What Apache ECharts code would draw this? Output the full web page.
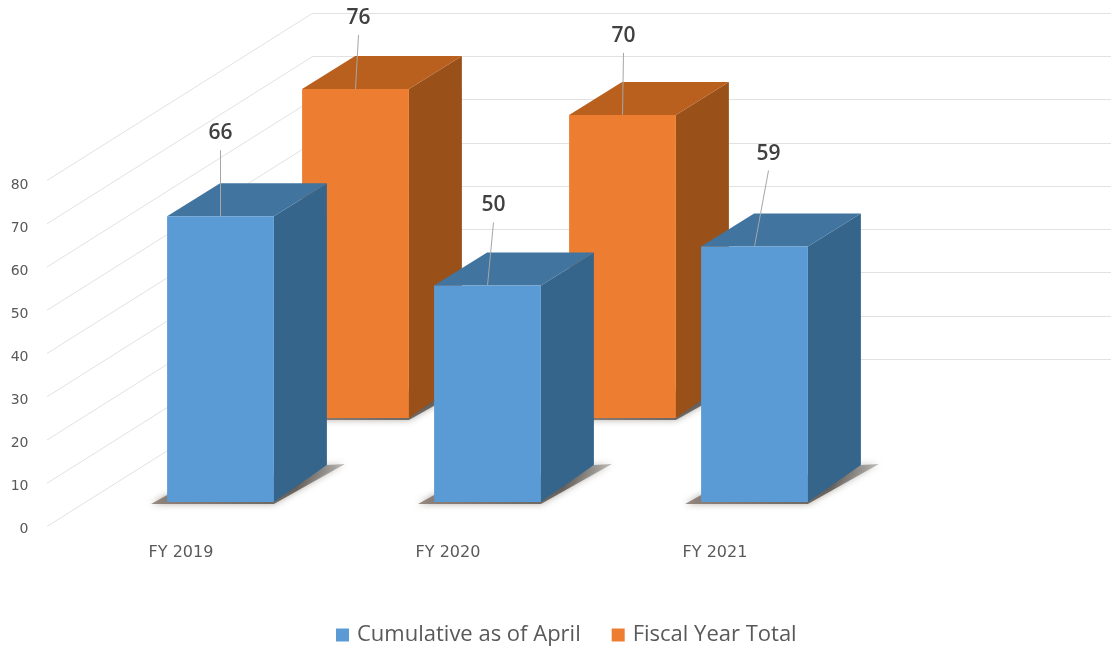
<!DOCTYPE html>
<html>
<head>
<meta charset="utf-8">
<style>html,body{margin:0;padding:0;background:#fff}#chart{width:1111px;height:652px}</style>
<script src="https://cdn.jsdelivr.net/npm/echarts@6/dist/echarts.min.js"></script>
</head>
<body>
<div id="chart"></div>
<script>
const categories = ['FY 2019', 'FY 2020', 'FY 2021'];
const cumulativeValues = [66, 50, 59];
const fiscalTotalValues = [76, 70, null];
const axisTicks = [0, 10, 20, 30, 40, 50, 60, 70, 80];

// label anchor offsets from the middle of each bar's top edge (style only)
const cumulativeLabelOffsets = [[0, -83], [6, -80], [14, -93]];
const fiscalLabelOffsets = [[3, -71], [1, -79], null];

const FONT = '"Open Sans", sans-serif';
const AXIS_FONT = '"DejaVu Sans", sans-serif';
const BAR_RATIO = 0.4;
const DEPTH = { dx: 53, topDy: 33, bottomDy: 37 };
const ROW_SHIFT = { back: [135, -84], front: [0, 0] };
const WALL_SHIFT = [266, -167.5];

const palette = {
  blue: { front: '#5b9bd5', top: '#41749f', side: '#36658c' },
  orange: { front: '#ed7d31', top: '#b9601f', side: '#9a5119' }
};

function barRender(colors, shift, offsets) {
  return function (params, api) {
    const cat = api.value(0), val = api.value(1);
    const w = api.size([1, 0])[0] * BAR_RATIO;
    const topC = api.coord([cat, val]);
    const botC = api.coord([cat, 0]);
    const xl = topC[0] - w / 2 + shift[0], xr = xl + w;
    const yt = topC[1] + shift[1], yb = botC[1] + shift[1];
    const d = DEPTH;
    const poly = (points, fill, extra) => ({
      type: 'polygon', shape: { points }, style: Object.assign({ fill }, extra || {}), silent: true
    });
    const shadowFill = new echarts.graphic.LinearGradient(0, 0, 1, 0, [
      { offset: 0, color: 'rgba(120,105,95,0.75)' },
      { offset: 0.75, color: 'rgba(70,65,60,0.75)' },
      { offset: 1, color: 'rgba(120,115,110,0.45)' }
    ]);
    const children = [
      poly([[xl - 16, yb + 2], [xl, yb - 7], [xr + d.dx, yb - d.bottomDy], [xr + d.dx + 18, yb - d.bottomDy - 1], [xr, yb + 2]],
        shadowFill, { shadowBlur: 7, shadowColor: 'rgba(110,100,90,0.7)' }),
      poly([[xr, yt], [xr + d.dx, yt - d.topDy], [xr + d.dx, yb - d.bottomDy], [xr, yb]], colors.side),
      poly([[xl, yt], [xl + d.dx, yt - d.topDy], [xr + d.dx, yt - d.topDy], [xr, yt]], colors.top),
      { type: 'rect', shape: { x: xl, y: yt, width: w, height: yb - yt }, style: { fill: colors.front }, silent: true }
    ];
    const off = offsets[params.dataIndex];
    const mx = (xl + xr) / 2;
    children.push({
      type: 'line',
      shape: { x1: mx, y1: yt, x2: mx + off[0], y2: yt + off[1] + 17 },
      style: { stroke: '#a6a6a6', lineWidth: 1 }, silent: true
    });
    children.push({
      type: 'text',
      style: {
        x: mx + off[0], y: yt + off[1], text: String(val),
        font: '600 21px ' + FONT, fill: '#404040', align: 'center', verticalAlign: 'middle'
      }, silent: true
    });
    return { type: 'group', children };
  };
}

function rows(values) {
  const out = [];
  values.forEach((v, i) => { if (v !== null) out.push([i, v]); });
  return out;
}

const option = {
  animation: false,
  backgroundColor: '#ffffff',
  legend: {
    data: ['Cumulative as of April', 'Fiscal Year Total'],
    left: 331, top: 619, icon: 'rect',
    itemWidth: 13, itemHeight: 13, itemGap: 31,
    selectedMode: false,
    textStyle: { fontFamily: FONT, fontSize: 22, color: '#595959', padding: [0, 0, 0, 3] }
  },
  grid: [
    { left: 87, width: 801, top: 155.6, height: 346.4 },
    { left: 47.5, width: 801, top: 185, height: 344 },
    { left: 313, right: 0, top: 13, height: 346 }
  ],
  xAxis: [
    { gridIndex: 0, type: 'category', data: categories, show: false },
    {
      gridIndex: 1, type: 'category', data: categories,
      axisLine: { show: false }, axisTick: { show: false },
      axisLabel: { margin: 16, fontFamily: AXIS_FONT, fontSize: 16, color: '#595959' }
    },
    { gridIndex: 2, type: 'value', min: 0, max: 1, show: false }
  ],
  yAxis: [
    { gridIndex: 0, type: 'value', min: 0, max: 80, show: false },
    {
      gridIndex: 1, type: 'value', min: 0, max: 80, interval: 10,
      axisLine: { show: false }, axisTick: { show: false }, splitLine: { show: false },
      axisLabel: { margin: 19, fontFamily: AXIS_FONT, fontSize: 14, color: '#595959' }
    },
    {
      gridIndex: 2, type: 'value', min: 0, max: 80, interval: 10,
      axisLine: { show: false }, axisTick: { show: false }, axisLabel: { show: false },
      splitLine: { show: true, lineStyle: { color: '#e2e2e2', width: 1 } }
    }
  ],
  series: [
    {
      type: 'custom', name: 'floor lines', xAxisIndex: 2, yAxisIndex: 2, z: 1, silent: true, clip: false,
      data: axisTicks.map(t => [0, t]),
      encode: { x: 0, y: 1 },
      renderItem: function (params, api) {
        const p = api.coord([0, api.value(1)]);
        return {
          type: 'line',
          shape: { x1: p[0] - WALL_SHIFT[0], y1: p[1] - WALL_SHIFT[1], x2: p[0], y2: p[1] },
          style: { stroke: '#e2e2e2', lineWidth: 1 }, silent: true
        };
      }
    },
    {
      type: 'custom', name: 'Fiscal Year Total', xAxisIndex: 0, yAxisIndex: 0, z: 2, clip: false,
      itemStyle: { color: palette.orange.front },
      data: rows(fiscalTotalValues), encode: { x: 0, y: 1 },
      renderItem: barRender(palette.orange, ROW_SHIFT.back, fiscalLabelOffsets)
    },
    {
      type: 'custom', name: 'Cumulative as of April', xAxisIndex: 0, yAxisIndex: 0, z: 3, clip: false,
      itemStyle: { color: palette.blue.front },
      data: rows(cumulativeValues), encode: { x: 0, y: 1 },
      renderItem: barRender(palette.blue, ROW_SHIFT.front, cumulativeLabelOffsets)
    }
  ]
};

const chart = echarts.init(document.getElementById('chart'), null, { renderer: 'canvas' });
chart.setOption(option);
</script>
</body>
</html>
